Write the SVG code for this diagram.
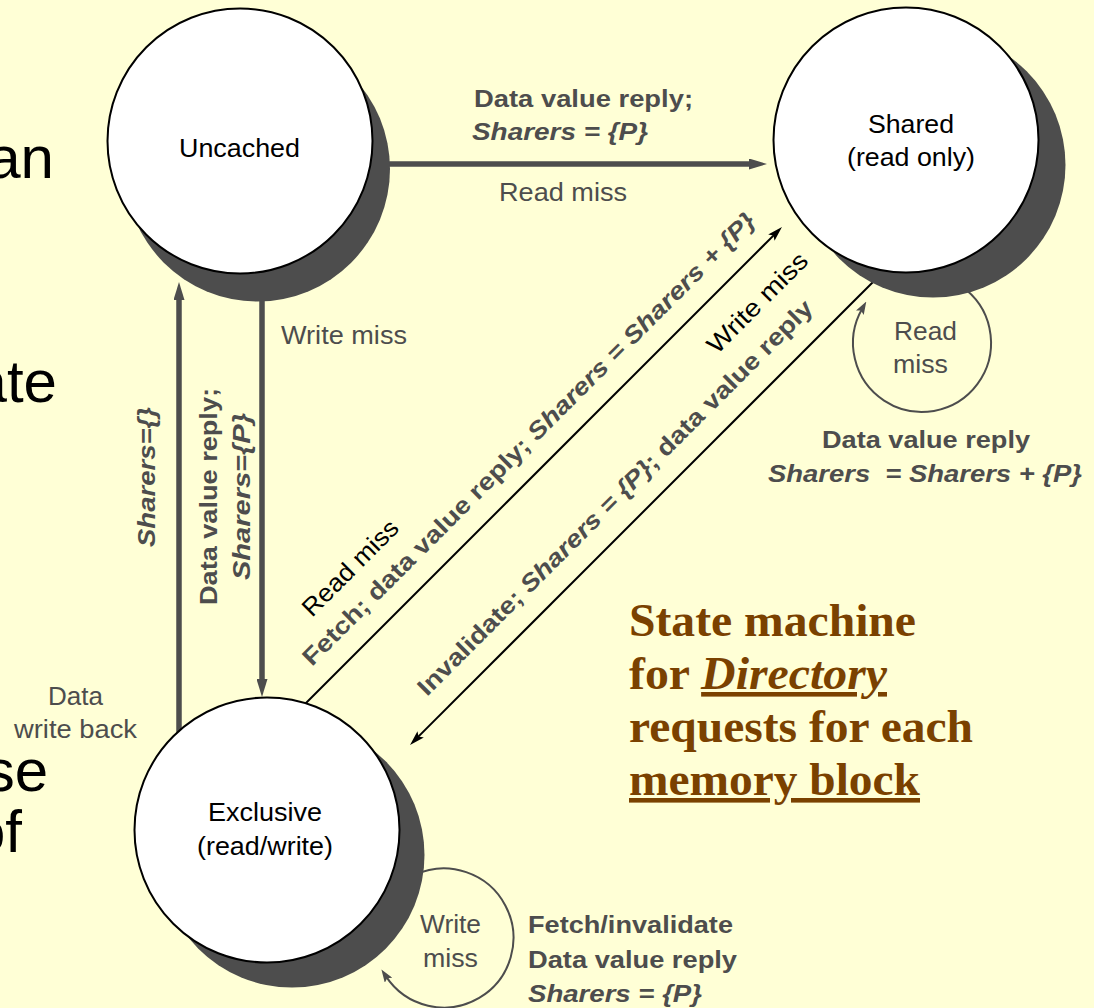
<svg xmlns="http://www.w3.org/2000/svg" width="1094" height="1008" viewBox="0 0 1094 1008">
  <defs>
    <style>
      .sans { font-family: "Liberation Sans", Arial, Helvetica, sans-serif; }
      .serif { font-family: "Liberation Serif", "Times New Roman", serif; }
      .bigtxt { font-family: "Liberation Sans", Arial, sans-serif; font-size: 60px; fill: #000; }
      .shadow { fill: #4d4d4d; }
      .disc { fill: #fff; stroke: #000; stroke-width: 2; }
      .state { font-family: "Liberation Sans", Arial, sans-serif; font-size: 25px; fill: #000; }
      .lbl { font-family: "Liberation Sans", Arial, sans-serif; font-size: 25px; fill: #4d4d4d; }
      .blk { fill: #000; }
      .lblb { font-family: "Liberation Sans", Arial, sans-serif; font-size: 24px; font-weight: bold; fill: #4d4d4d; }
      .it { font-style: italic; }
      .thick { stroke: #4d4d4d; stroke-width: 5.5; fill: none; }
      .thin { stroke: #000; stroke-width: 2; fill: none; }
      .loop { stroke: #4d4d4d; stroke-width: 2; fill: none; }
      .title { font-family: "Liberation Serif", "Times New Roman", serif; font-size: 46px; font-weight: bold; fill: #7a4100; }
    </style>
    <marker id="head-thick" viewBox="0 0 18 11" refX="6" refY="5.5" markerWidth="18" markerHeight="11" markerUnits="userSpaceOnUse" orient="auto">
      <path d="M0,0 L18,5.5 L0,11 z" fill="#4d4d4d"/>
    </marker>
    <marker id="head-thin" viewBox="0 0 15 9" refX="5" refY="4.5" markerWidth="15" markerHeight="9" markerUnits="userSpaceOnUse" orient="auto">
      <path d="M0,0 L15,4.5 L0,9 L3,4.5 z" fill="#000"/>
    </marker>
    <marker id="head-loop" viewBox="0 0 13 9" refX="5" refY="4.5" markerWidth="13" markerHeight="9" markerUnits="userSpaceOnUse" orient="auto">
      <path d="M0,0 L13,4.5 L0,9 L2.5,4.5 z" fill="#4d4d4d"/>
    </marker>
  </defs>

  <!-- slide background -->
  <rect width="1094" height="1008" fill="#ffffd6"/>

  <!-- slide body text running under the figure -->
  <g id="slide-text">
    <text class="bigtxt" x="54" y="178" text-anchor="end">an</text>
    <text class="bigtxt" x="57" y="402" text-anchor="end">ate</text>
    <text class="bigtxt" x="48" y="791" text-anchor="end">se</text>
    <text class="bigtxt" x="22" y="852" text-anchor="end">of</text>
  </g>

  <!-- transitions -->
  <g id="connectors">
    <!-- Uncached -> Shared (read miss) -->
    <line class="thick" x1="380" y1="164" x2="755" y2="164" marker-end="url(#head-thick)"/>
    <!-- Uncached -> Exclusive (write miss) -->
    <line class="thick" x1="262" y1="290" x2="262" y2="685" marker-end="url(#head-thick)"/>
    <!-- Exclusive -> Uncached (data write back) -->
    <line class="thick" x1="179" y1="740" x2="179" y2="294" marker-end="url(#head-thick)"/>
    <!-- Exclusive -> Shared (read miss) -->
    <line class="thin" x1="300" y1="709" x2="774.9" y2="234.1" marker-end="url(#head-thin)"/>
    <!-- Shared -> Exclusive (write miss) -->
    <line class="thin" x1="880" y1="275" x2="417.1" y2="737.9" marker-end="url(#head-thin)"/>
    <!-- Shared self loop (read miss) -->
    <path class="loop" d="M966.4,290.1 A69,69 0 1 1 862.3,308.4" marker-end="url(#head-loop)"/>
    <!-- Exclusive self loop (write miss) -->
    <path class="loop" d="M414.6,875 A69.5,69.5 0 1 1 385.8,976.1" marker-end="url(#head-loop)"/>
  </g>

  <!-- states -->
  <g id="node-uncached">
    <circle class="shadow" cx="257.5" cy="169" r="132.5"/>
    <circle class="disc" cx="240" cy="141" r="132.5"/>
    <text class="state" x="179" y="157" textLength="121" lengthAdjust="spacingAndGlyphs">Uncached</text>
  </g>
  <g id="node-shared">
    <circle class="shadow" cx="933" cy="165" r="132.5"/>
    <circle class="disc" cx="906" cy="140" r="132.5"/>
    <text class="state" x="868" y="133" textLength="86" lengthAdjust="spacingAndGlyphs">Shared</text>
    <text class="state" x="847" y="166" textLength="128" lengthAdjust="spacingAndGlyphs">(read only)</text>
  </g>
  <g id="node-exclusive">
    <circle class="shadow" cx="292" cy="855" r="132.5"/>
    <circle class="disc" cx="267" cy="830" r="132.5"/>
    <text class="state" x="208" y="821" textLength="114" lengthAdjust="spacingAndGlyphs">Exclusive</text>
    <text class="state" x="197" y="855" textLength="136" lengthAdjust="spacingAndGlyphs">(read/write)</text>
  </g>

  <!-- transition labels -->
  <g id="labels">
    <!-- Uncached -> Shared -->
    <text class="lblb" x="474" y="107" textLength="219" lengthAdjust="spacingAndGlyphs">Data value reply;</text>
    <text class="lblb it" x="472" y="140" textLength="176" lengthAdjust="spacingAndGlyphs">Sharers = {P}</text>
    <text class="lbl" x="499" y="201" textLength="128" lengthAdjust="spacingAndGlyphs">Read miss</text>

    <!-- Uncached -> Exclusive -->
    <text class="lbl" x="281" y="344" textLength="126" lengthAdjust="spacingAndGlyphs">Write miss</text>
    <text class="lblb" transform="translate(217,605) rotate(-90)" textLength="217" lengthAdjust="spacingAndGlyphs">Data value reply;</text>
    <text class="lblb it" transform="translate(250,580) rotate(-90)" textLength="167" lengthAdjust="spacingAndGlyphs">Sharers={P}</text>

    <!-- Exclusive -> Uncached -->
    <text class="lblb it" transform="translate(155,547) rotate(-90)" textLength="140" lengthAdjust="spacingAndGlyphs">Sharers={}</text>
    <text class="lbl" x="48" y="705" textLength="55" lengthAdjust="spacingAndGlyphs">Data</text>
    <text class="lbl" x="14" y="738" textLength="123" lengthAdjust="spacingAndGlyphs">write back</text>

    <!-- Exclusive -> Shared -->
    <text class="lbl blk" transform="translate(312,618) rotate(-45)" textLength="125" lengthAdjust="spacingAndGlyphs">Read miss</text>
    <text class="lblb" transform="translate(312,667) rotate(-45)" textLength="629" lengthAdjust="spacingAndGlyphs">Fetch; data value reply; <tspan class="it">Sharers = Sharers + {P}</tspan></text>

    <!-- Shared -> Exclusive -->
    <text class="lbl blk" transform="translate(717,355) rotate(-45)" textLength="131" lengthAdjust="spacingAndGlyphs">Write miss</text>
    <text class="lblb" transform="translate(427,697) rotate(-45)" textLength="548" lengthAdjust="spacingAndGlyphs">Invalidate; <tspan class="it">Sharers = {P}</tspan>; data value reply</text>

    <!-- Shared self loop -->
    <text class="lbl" x="894" y="340" textLength="63" lengthAdjust="spacingAndGlyphs">Read</text>
    <text class="lbl" x="893" y="373" textLength="55" lengthAdjust="spacingAndGlyphs">miss</text>
    <text class="lblb" x="822" y="448" textLength="208" lengthAdjust="spacingAndGlyphs">Data value reply</text>
    <text class="lblb it" x="768" y="482" textLength="314" lengthAdjust="spacingAndGlyphs" style="white-space:pre">Sharers  = Sharers + {P}</text>

    <!-- Exclusive self loop -->
    <text class="lbl" x="420" y="933" textLength="61" lengthAdjust="spacingAndGlyphs">Write</text>
    <text class="lbl" x="423" y="967" textLength="55" lengthAdjust="spacingAndGlyphs">miss</text>
    <text class="lblb" x="528" y="933" textLength="205" lengthAdjust="spacingAndGlyphs">Fetch/invalidate</text>
    <text class="lblb" x="528" y="968" textLength="209" lengthAdjust="spacingAndGlyphs">Data value reply</text>
    <text class="lblb it" x="528" y="1002" textLength="174" lengthAdjust="spacingAndGlyphs">Sharers = {P}</text>
  </g>

  <!-- caption -->
  <g id="caption">
    <text class="title" x="629" y="636" textLength="287" lengthAdjust="spacingAndGlyphs">State machine</text>
    <text class="title" x="629" y="689" textLength="258" lengthAdjust="spacingAndGlyphs">for <tspan class="it" text-decoration="underline">Directory</tspan></text>
    <text class="title" x="629" y="742" textLength="344" lengthAdjust="spacingAndGlyphs">requests for each</text>
    <text class="title" x="629" y="795" textLength="291" lengthAdjust="spacingAndGlyphs" text-decoration="underline">memory block</text>
  </g>
</svg>
